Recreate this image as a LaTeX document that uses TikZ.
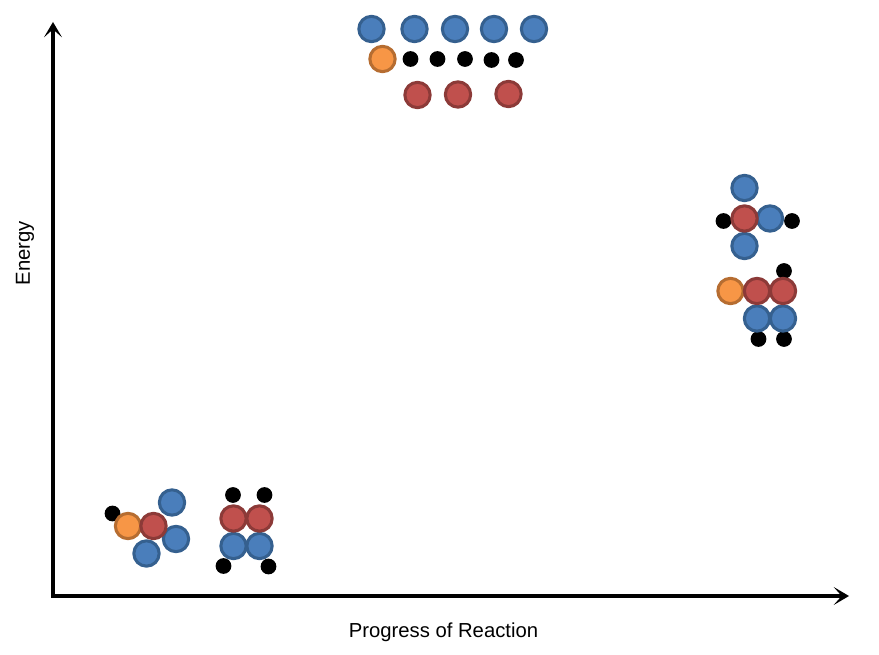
\documentclass[tikz,border=0pt]{standalone}
\usepackage{fontspec}
\setmainfont{Liberation Sans}
\usetikzlibrary{arrows.meta}
\definecolor{bluefill}{HTML}{4A7EBB}
\definecolor{blueedge}{HTML}{35608F}
\definecolor{redfill}{HTML}{C0504D}
\definecolor{rededge}{HTML}{8C3A38}
\definecolor{orangefill}{HTML}{F79646}
\definecolor{orangeedge}{HTML}{B66D31}
\tikzset{
  x=0.75pt,y=-0.75pt,
  atom/.style={circle,inner sep=0pt,minimum size=19pt,line width=2.3pt},
  bluea/.style={atom,fill=bluefill,draw=blueedge},
  reda/.style={atom,fill=redfill,draw=rededge},
  orangea/.style={atom,fill=orangefill,draw=orangeedge},
  dota/.style={circle,inner sep=0pt,minimum size=11.8pt,fill=black},
  axisline/.style={line width=2.6pt,black,{Stealth[length=11.5pt,width=13.5pt,inset=6pt]}-{Stealth[length=11.5pt,width=13.5pt,inset=6pt]},line join=miter},
  lab/.style={inner sep=0pt,font=\fontsize{15.2pt}{18pt}\selectfont}
}
\begin{document}
\begin{tikzpicture}
\useasboundingbox (0,0) rectangle (879,655);
\fill[white] (0,0) rectangle (879,655);
% axes
\coordinate (ytip) at (53,22);
\coordinate (origin) at (53,596);
\coordinate (xtip) at (849,596);
\draw[axisline] (ytip) -- (origin) -- (xtip);
\node[lab] (xlabel) at (443.5,632) {Progress of Reaction};
\node[lab,rotate=90] (ylabel) at (25,253) {Energy};
% top group
\node[bluea] (t1) at (371.5,29) {};
\node[bluea] (t2) at (414.5,29) {};
\node[bluea] (t3) at (455,29) {};
\node[bluea] (t4) at (494,29) {};
\node[bluea] (t5) at (534,29) {};
\node[orangea] (t6) at (382.5,59) {};
\node[dota] (t7) at (410.5,59) {};
\node[dota] (t8) at (437.5,59) {};
\node[dota] (t9) at (465,59) {};
\node[dota] (t10) at (491.5,60) {};
\node[dota] (t11) at (516,60) {};
\node[reda] (t12) at (417.5,95) {};
\node[reda] (t13) at (458,94.5) {};
\node[reda] (t14) at (508.5,94) {};
% right upper
\node[dota] (r1) at (723.5,221) {};
\node[dota] (r2) at (792,221) {};
\node[bluea] (r3) at (744.5,188) {};
\node[bluea] (r4) at (744.5,246) {};
\node[bluea] (r5) at (770,218.5) {};
\node[reda] (r6) at (744.5,218.5) {};
% right lower
\node[dota] (q1) at (784,271) {};
\node[dota] (q2) at (758.5,339) {};
\node[dota] (q3) at (784,339) {};
\node[bluea] (q4) at (757,318.5) {};
\node[bluea] (q5) at (783,318.5) {};
\node[orangea] (q6) at (730.5,291) {};
\node[reda] (q7) at (757,291) {};
\node[reda] (q8) at (783,291) {};
% left
\node[dota] (l1) at (112.5,513.5) {};
\node[bluea] (l2) at (172,502.5) {};
\node[bluea] (l3) at (176,539) {};
\node[bluea] (l4) at (146.5,553.5) {};
\node[orangea] (l5) at (128,526) {};
\node[reda] (l6) at (153.5,526) {};
% second
\node[dota] (m1) at (233,495) {};
\node[dota] (m2) at (264.5,495) {};
\node[dota] (m3) at (223.5,566) {};
\node[dota] (m4) at (268.5,566.5) {};
\node[bluea] (m5) at (233.5,546) {};
\node[bluea] (m6) at (259.5,546) {};
\node[reda] (m7) at (233.5,518.5) {};
\node[reda] (m8) at (259.5,518.5) {};
\end{tikzpicture}
\end{document}
